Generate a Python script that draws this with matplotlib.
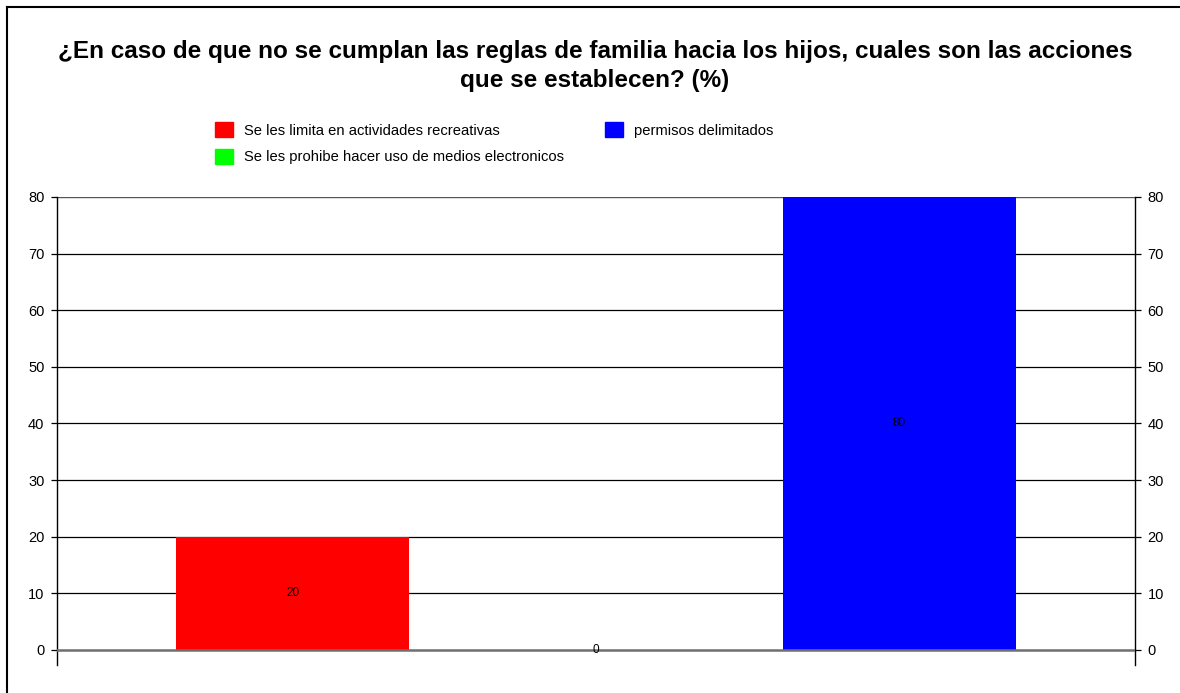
import numpy as np
import matplotlib
matplotlib.use('Agg')
import matplotlib.pyplot as plt
import matplotlib.patches as mpatches

plt.rcParams['font.family'] = ['Liberation Sans', 'DejaVu Sans']

TITLE = '¿En caso de que no se cumplan las reglas de familia hacia los hijos, cuales son las acciones\nque se establecen? (%)'
labels = ['Se les limita en actividades recreativas',
          'Se les prohibe hacer uso de medios electronicos',
          'permisos delimitados']
values = [20, 0, 80]
colors = ['#FF0000', '#00FF00', '#0000FF']
y_ticks = [0, 10, 20, 30, 40, 50, 60, 70, 80]

W, H = 1180, 693
fig = plt.figure(figsize=(W / 100, H / 100), dpi=100)
ax = fig.add_axes([57 / W, 1 - 665 / H, (1135 - 57) / W, (665 - 197) / H])

idx = np.arange(len(values))
width = 0.768
bars = ax.bar(idx, values, width, color=colors, zorder=3)

for i, v in enumerate(values):
    ax.text(i, v / 2.0, str(v), ha='center', va='center', fontsize=8.5, zorder=5)

ax.set_xlim(-0.776, 2.776)
ax.set_ylim(-2.65, 80)

# horizontal grid lines
for t in y_ticks:
    if t == 0:
        ax.axhline(t, color='#6f6f6f', lw=1.8, zorder=4)
    elif t == 80:
        ax.axhline(t, color='#555555', lw=1.0, zorder=2)
    else:
        ax.axhline(t, color='black', lw=0.9, zorder=2)

ax.set_xticks([])
ax.set_yticks(y_ticks)
ax.tick_params(axis='y', which='both', left=True, right=True, labelleft=True,
               labelright=True, direction='out', length=4, width=0.9,
               labelsize=10.5, pad=5, colors='black')
ax.spines['top'].set_visible(False)
ax.spines['bottom'].set_visible(False)
ax.spines['left'].set_linewidth(1.0)
ax.spines['right'].set_linewidth(1.0)

fig.text(595 / W, 1 - 40 / H, TITLE, ha='center', va='top', fontsize=17.5,
         fontweight='bold', linespacing=1.35)

handles = [mpatches.Patch(color=c, label=l) for c, l in zip(colors, labels)]
fig.legend(handles=handles, ncol=2, loc='upper left',
           bbox_to_anchor=(215 / W, 1 - 122 / H), frameon=False, fontsize=10.6,
           handlelength=1.2, handleheight=1.2, handletextpad=0.75,
           columnspacing=2.8, labelspacing=0.75, borderpad=0, borderaxespad=0)

# outer chart border (only top and left visible)
fig.add_artist(plt.Line2D([7 / W, 1.0], [1 - 7 / H, 1 - 7 / H], color='black', lw=1.5,
                          transform=fig.transFigure))
fig.add_artist(plt.Line2D([7 / W, 7 / W], [0.0, 1 - 7 / H], color='black', lw=1.5,
                          transform=fig.transFigure))

fig.savefig('out.png', dpi=100)
